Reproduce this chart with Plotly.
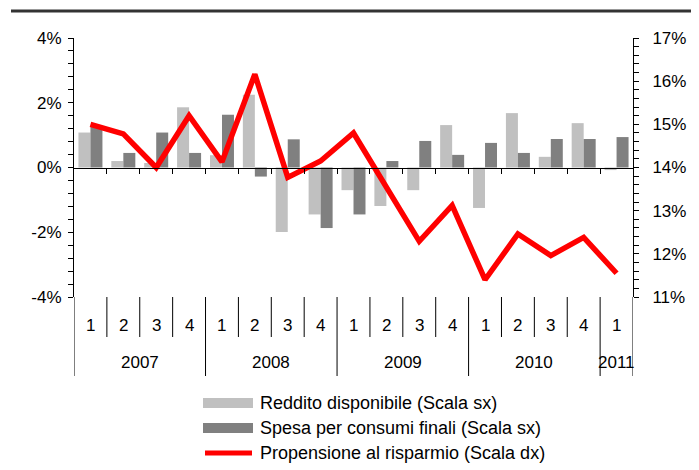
import plotly.graph_objects as go

# ---- data ----
quarters = ["1", "2", "3", "4", "1", "2", "3", "4", "1", "2", "3", "4", "1", "2", "3", "4", "1"]
years = ["2007", "2008", "2009", "2010", "2011"]
quarters_per_year = [4, 4, 4, 4, 1]
reddito = [1.08, 0.20, 0.14, 1.86, 0.38, 2.25, -1.99, -1.45, -0.70, -1.19, -0.70, 1.31, -1.25, 1.68, 0.33, 1.37, -0.08]
spesa = [1.25, 0.45, 1.08, 0.45, 1.63, -0.28, 0.87, -1.87, -1.45, 0.20, 0.82, 0.39, 0.76, 0.45, 0.88, 0.88, 0.94]
propensione = [15.0, 14.78, 14.0, 15.2, 14.13, 16.16, 13.77, 14.15, 14.8, 13.55, 12.29, 13.12, 11.4, 12.46, 11.96, 12.38, 11.55]
left_ticks = [-4, -2, 0, 2, 4]
left_labels = ["-4%", "-2%", "0%", "2%", "4%"]
right_ticks = [11, 12, 13, 14, 15, 16, 17]
right_labels = ["11%", "12%", "13%", "14%", "15%", "16%", "17%"]
series_names = ["Reddito disponibile (Scala sx)", "Spesa per consumi finali (Scala sx)",
                "Propensione al risparmio (Scala dx)"]

# ---- layout geometry (page pixels of the reference; the page body adds an 8px offset) ----
W, H = 699, 470
OFF = 8
AX_L, AX_R, AX_T, AX_B = 74, 633, 38, 297  # plot area in page pixels
L = AX_L - OFF
T = AX_T - OFF
R = W - (AX_R - OFF)
B = H - (AX_B - OFF)
PW, PH = AX_R - AX_L, AX_B - AX_T
FONT = "Liberation Sans, Arial, sans-serif"


def px(xp):
    return (xp - AX_L) / PW


def py(yp):
    return (AX_B - yp) / PH


x = list(range(len(quarters)))
n = len(quarters)

fig = go.Figure()
fig.add_trace(go.Bar(x=x, y=reddito, name=series_names[0], marker=dict(color="#c0c0c0", line=dict(width=0)),
                     showlegend=False))
fig.add_trace(go.Bar(x=x, y=spesa, name=series_names[1], marker=dict(color="#808080", line=dict(width=0)),
                     showlegend=False))
fig.add_trace(go.Scatter(x=x, y=propensione, name=series_names[2], mode="lines",
                         line=dict(color="#ff0000", width=5.5), yaxis="y2", showlegend=False))

shapes = []
annotations = []

# top rule
shapes.append(dict(type="line", xref="paper", yref="paper", x0=px(11), x1=px(710), y0=py(11), y1=py(11),
                   line=dict(color="#333333", width=3)))

# category separators & labels
q_bottom = py(337)
y_bottom = py(376)
year_bounds = [-0.5]
acc = -0.5
for c in quarters_per_year:
    acc += c
    year_bounds.append(acc)
for k in range(1, n):
    b = k - 0.5
    if b in year_bounds:
        continue
    shapes.append(dict(type="line", xref="x", yref="paper", x0=b, x1=b, y0=0, y1=q_bottom,
                       line=dict(color="black", width=1)))
for b in year_bounds:
    shapes.append(dict(type="line", xref="x", yref="paper", x0=b, x1=b, y0=0, y1=y_bottom,
                       line=dict(color="black", width=1)))
for i, q in enumerate(quarters):
    annotations.append(dict(x=i, y=py(325), xref="x", yref="paper", text=q, showarrow=False,
                            font=dict(size=17, family=FONT, color="black"), xanchor="center", yanchor="middle"))
start = 0
for yr, c in zip(years, quarters_per_year):
    annotations.append(dict(x=start + (c - 1) / 2, y=py(362), xref="x", yref="paper", text=yr, showarrow=False,
                            font=dict(size=17, family=FONT, color="black"), xanchor="center", yanchor="middle"))
    start += c

# manual legend
rows = [403, 428, 453]
shapes.append(dict(type="rect", xref="paper", yref="paper", x0=px(203), x1=px(253), y0=py(398), y1=py(408),
                   fillcolor="#c0c0c0", line=dict(width=0)))
shapes.append(dict(type="rect", xref="paper", yref="paper", x0=px(203), x1=px(253), y0=py(423), y1=py(433),
                   fillcolor="#808080", line=dict(width=0)))
shapes.append(dict(type="line", xref="paper", yref="paper", x0=px(205), x1=px(252), y0=py(453), y1=py(453),
                   line=dict(color="#ff0000", width=5)))
for r, name in zip(rows, series_names):
    annotations.append(dict(x=px(258), y=py(r), xref="paper", yref="paper", text=name, showarrow=False,
                            font=dict(size=18, family=FONT, color="black"), xanchor="left", yanchor="middle"))

fig.update_layout(
    width=W, height=H,
    margin=dict(l=L, r=R, t=T, b=B, pad=0),
    paper_bgcolor="white", plot_bgcolor="white",
    barmode="group", bargap=0.27, bargroupgap=0,
    font=dict(family=FONT, size=17, color="black"),
    showlegend=False,
    xaxis=dict(range=[-0.5, n - 0.5], anchor="free", position=0.5, showline=True, linecolor="black",
               linewidth=1, ticks="outside", ticklen=5, tickcolor="black",
               tickvals=[k - 0.5 for k in range(1, n)], showticklabels=False, showgrid=False, zeroline=False),
    yaxis=dict(range=[-4, 4], tickvals=left_ticks, ticktext=left_labels, ticks="outside", ticklen=5,
               tickcolor="black", showline=True, linecolor="black", linewidth=1, showgrid=False, zeroline=False,
               ticklabelstandoff=3,
               minor=dict(dtick=0.4, tick0=0, ticks="outside", ticklen=5, tickcolor="black", showgrid=False),
               tickfont=dict(size=17, family=FONT)),
    yaxis2=dict(range=[11, 17], overlaying="y", side="right", tickvals=right_ticks, ticktext=right_labels,
                ticks="outside", ticklen=5, tickcolor="black", showline=True, linecolor="black", linewidth=1,
                showgrid=False, zeroline=False, ticklabelstandoff=10,
                minor=dict(dtick=0.2, tick0=11, ticks="outside", ticklen=5, tickcolor="black", showgrid=False),
                tickfont=dict(size=17, family=FONT)),
    shapes=shapes, annotations=annotations,
)

fig.write_html("out.html")
